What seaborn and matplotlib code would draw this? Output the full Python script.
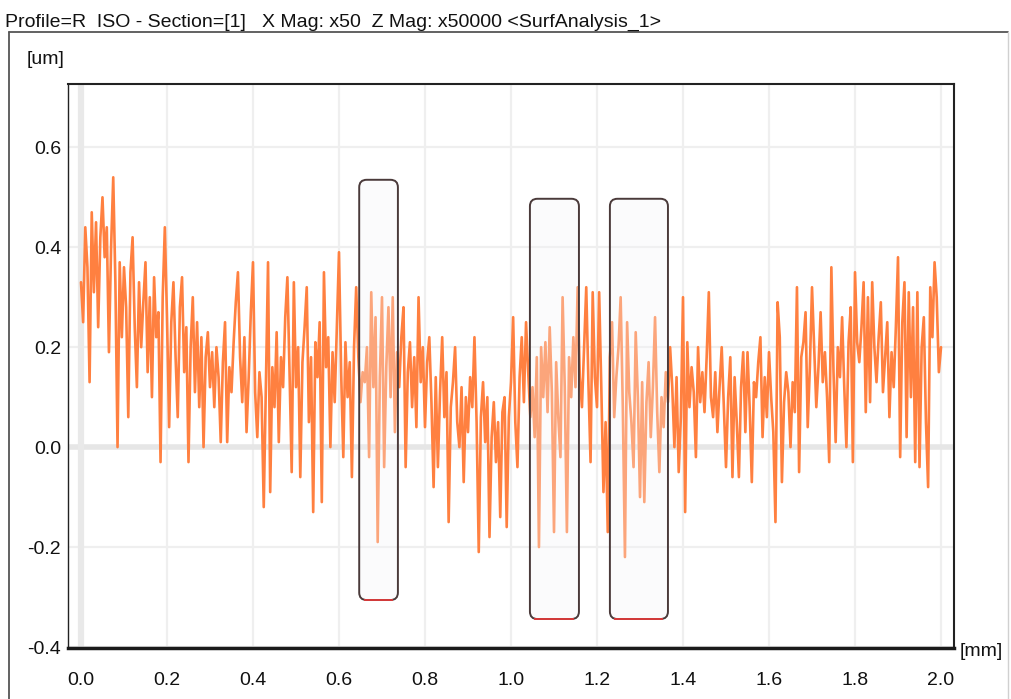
import numpy as np
import pandas as pd
import matplotlib
matplotlib.use("Agg")
import matplotlib.pyplot as plt
import seaborn as sns
from matplotlib.patches import FancyBboxPatch
from matplotlib.lines import Line2D

# ---------------- data ----------------
title_text = "Profile=R  ISO - Section=[1]   X Mag: x50  Z Mag: x50000 <SurfAnalysis_1>"
y_unit = "[um]"
x_unit = "[mm]"

profile_x_start_mm = 0.0
profile_x_step_mm = 0.005

profile_z_um = [
    0.33, 0.25, 0.44, 0.36, 0.13, 0.47, 0.31, 0.45, 0.24, 0.42, 0.50, 0.38, 0.44, 0.19, 0.40, 0.54, 0.33, 0.00, 0.37, 0.22,
    0.36, 0.28, 0.06, 0.35, 0.42, 0.24, 0.12, 0.33, 0.20, 0.29, 0.37, 0.15, 0.30, 0.10, 0.34, 0.22, 0.27, -0.03, 0.30, 0.44,
    0.26, 0.04, 0.25, 0.33, 0.18, 0.06, 0.28, 0.34, 0.15, 0.24, -0.03, 0.20, 0.30, 0.11, 0.25, 0.08, 0.22, 0.00, 0.18, 0.23,
    0.12, 0.19, 0.08, 0.20, 0.14, 0.01, 0.17, 0.25, 0.01, 0.16, 0.11, 0.21, 0.29, 0.35, 0.18, 0.09, 0.22, 0.03, 0.14, 0.27,
    0.37, 0.11, 0.02, 0.15, 0.10, -0.12, 0.12, 0.37, -0.09, 0.16, 0.08, 0.23, 0.01, 0.18, 0.12, 0.26, 0.34, 0.15, -0.05, 0.33,
    0.12, 0.20, -0.06, 0.17, 0.24, 0.32, 0.05, 0.18, -0.13, 0.21, 0.14, 0.25, -0.11, 0.35, 0.16, 0.22, 0.00, 0.19, 0.09, 0.24,
    0.39, 0.15, -0.02, 0.21, 0.10, 0.17, -0.06, 0.20, 0.32, 0.18, 0.09, 0.15, 0.13, 0.20, -0.02, 0.31, 0.12, 0.26, -0.19, 0.14,
    0.30, -0.04, 0.16, 0.28, 0.10, 0.30, 0.03, 0.19, 0.12, 0.22, 0.28, -0.04, 0.15, 0.21, 0.08, 0.18, 0.04, 0.30, 0.13, 0.20,
    0.04, 0.17, 0.22, 0.09, -0.08, 0.14, -0.04, 0.11, 0.22, 0.06, 0.15, -0.15, 0.08, 0.13, 0.20, 0.05, 0.00, 0.12, -0.07, 0.10,
    0.03, 0.14, 0.08, 0.22, 0.05, -0.21, 0.06, 0.13, 0.01, 0.10, -0.18, 0.02, 0.09, -0.03, 0.05, -0.14, 0.07, 0.10, -0.16, 0.06,
    0.13, 0.26, 0.05, -0.04, 0.14, 0.22, 0.09, 0.25, 0.15, 0.06, 0.12, 0.02, 0.18, -0.20, 0.20, 0.10, 0.21, 0.07, 0.24, 0.11,
    -0.17, 0.17, 0.06, -0.02, 0.30, 0.12, -0.17, 0.18, 0.10, 0.22, 0.12, 0.32, 0.14, 0.08, 0.20, 0.32, 0.13, -0.03, 0.31, 0.14,
    0.08, 0.31, 0.12, -0.09, 0.05, -0.17, 0.18, 0.25, 0.06, 0.14, 0.20, 0.30, 0.08, -0.22, 0.25, 0.11, 0.05, -0.04, 0.23, 0.10,
    -0.10, 0.13, -0.11, 0.09, 0.17, 0.02, 0.12, 0.26, 0.07, -0.05, 0.10, 0.04, 0.15, 0.09, 0.20, 0.12, 0.00, 0.14, -0.05, 0.06,
    0.30, -0.13, 0.21, 0.08, 0.16, 0.11, -0.02, 0.20, 0.09, 0.15, 0.07, 0.18, 0.31, 0.10, 0.06, 0.15, 0.03, 0.12, 0.20, 0.08,
    -0.04, 0.10, 0.18, -0.06, 0.14, 0.05, -0.06, 0.12, 0.19, 0.03, 0.19, 0.08, -0.07, 0.13, 0.10, 0.17, 0.22, 0.02, 0.14, 0.06,
    0.19, 0.10, 0.03, -0.15, 0.29, 0.22, -0.07, 0.09, 0.15, 0.11, 0.00, 0.13, 0.07, 0.32, -0.05, 0.18, 0.21, 0.27, 0.04, 0.16,
    0.32, 0.20, 0.08, 0.16, 0.27, 0.13, 0.19, 0.10, -0.03, 0.36, 0.15, 0.01, 0.20, 0.14, 0.26, 0.12, 0.00, 0.21, 0.28, -0.03,
    0.35, 0.21, 0.17, 0.24, 0.33, 0.07, 0.30, 0.09, 0.33, 0.20, 0.13, 0.22, 0.29, 0.11, 0.18, 0.25, 0.06, 0.19, 0.12, 0.24,
    0.38, -0.02, 0.25, 0.33, 0.02, 0.31, 0.10, 0.28, -0.03, 0.31, -0.04, 0.20, 0.26, 0.05, -0.08, 0.32, 0.22, 0.37, 0.30, 0.15,
    0.20,
]

# highlighted analysis windows (mm / um)
box_x0 = [0.647, 1.044, 1.230]
box_x1 = [0.737, 1.158, 1.365]
box_y0 = [-0.306, -0.344, -0.344]
box_y1 = [0.535, 0.497, 0.497]

x_ticks = [0.0, 0.2, 0.4, 0.6, 0.8, 1.0, 1.2, 1.4, 1.6, 1.8, 2.0]
x_tick_labels = ["0.0", "0.2", "0.4", "0.6", "0.8", "1.0", "1.2", "1.4", "1.6", "1.8", "2.0"]
y_ticks = [-0.4, -0.2, 0.0, 0.2, 0.4, 0.6]
y_tick_labels = ["-0.4", "-0.2", "0.0", "0.2", "0.4", "0.6"]

# ---------------- figure ----------------
sns.set_style("white")
plt.rcParams["font.family"] = ["Liberation Sans", "DejaVu Sans"]

W, H = 1012, 699
fig = plt.figure(figsize=(W / 100, H / 100), dpi=100)
fig.patch.set_facecolor("white")

ax_l, ax_r, ax_t, ax_b = 68, 954, 84, 648
ax = fig.add_axes([ax_l / W, 1 - ax_b / H, (ax_r - ax_l) / W, (ax_b - ax_t) / H])
ax.set_facecolor("white")

pos = profile_x_start_mm + profile_x_step_mm * np.arange(len(profile_z_um))
df = pd.DataFrame({"x": pos, "z": profile_z_um})

# grid
grid_c = "#efefef"
for gx in x_ticks:
    ax.axvline(gx, color=grid_c, lw=1.6, zorder=0)
for gy in y_ticks:
    ax.axhline(gy, color=grid_c, lw=1.6, zorder=0)
ax.axhline(0.0, color="#e6e6e6", lw=4.0, zorder=0.5)
ax.axvline(0.0, color="#e9e9e9", lw=4.5, zorder=0.5)

sns.lineplot(data=df, x="x", y="z", ax=ax, color="#ff8040", lw=1.9, zorder=2, estimator=None)

# analysis windows
px_x = (ax_r - ax_l) / (2.0302 + 0.0302)
px_y = (ax_b - ax_t) / (0.7267 + 0.402)
for x0, x1, y0, y1 in zip(box_x0, box_x1, box_y0, box_y1):
    r = 7.5 / px_x
    p = FancyBboxPatch((x0, y0), x1 - x0, y1 - y0,
                       boxstyle=f"round,pad=0,rounding_size={r}",
                       mutation_aspect=px_x / px_y,
                       facecolor="#f4f4f8", alpha=0.32, edgecolor="none", zorder=3)
    ax.add_patch(p)
    p2 = FancyBboxPatch((x0, y0), x1 - x0, y1 - y0,
                        boxstyle=f"round,pad=0,rounding_size={r}",
                        mutation_aspect=px_x / px_y,
                        facecolor="none", edgecolor="#4a3a3a", lw=1.4, zorder=4)
    ax.add_patch(p2)
    ax.plot([x0 + r * 0.6, x1 - r * 0.6], [y0, y0], color="#e03a3a", lw=1.3,
            zorder=5, solid_capstyle="butt")

ax.set_xlim(-0.0302, 2.0302)
ax.set_ylim(-0.402, 0.7267)
ax.set_xticks(x_ticks)
ax.set_xticklabels(x_tick_labels)
ax.set_yticks(y_ticks)
ax.set_yticklabels(y_tick_labels)
ax.set_xlabel("")
ax.set_ylabel("")
ax.tick_params(axis="both", length=0, labelsize=14, colors="#111111")
ax.tick_params(axis="x", pad=17)
ax.tick_params(axis="y", pad=5)

for s in ["left", "top", "right"]:
    ax.spines[s].set_visible(True)
    ax.spines[s].set_color("#222222")
ax.spines["left"].set_linewidth(1.0)
ax.spines["top"].set_linewidth(1.5)
ax.spines["right"].set_linewidth(1.5)
ax.spines["bottom"].set_color("#1a1a1a")
ax.spines["bottom"].set_linewidth(2.5)

# outer panel frame
def fx(v):
    return v / W

def fy(v):
    return 1 - v / H

fig.add_artist(Line2D([fx(9), fx(1008)], [fy(32), fy(32)], color="#555555", lw=1.3, transform=fig.transFigure))
fig.add_artist(Line2D([fx(9), fx(9)], [fy(32), fy(699)], color="#555555", lw=1.3, transform=fig.transFigure))
fig.add_artist(Line2D([fx(1008), fx(1008)], [fy(32), fy(699)], color="#d0d0d0", lw=1.0, transform=fig.transFigure))

fig.text(fx(5), fy(27), title_text, fontsize=14, color="#111111", ha="left", va="baseline")
fig.text(fx(27), fy(60), y_unit, fontsize=14, color="#111111", ha="left", va="center")
fig.text(fx(960), fy(651), x_unit, fontsize=14, color="#111111", ha="left", va="center")

fig.savefig("out.png", dpi=100, facecolor="white")
